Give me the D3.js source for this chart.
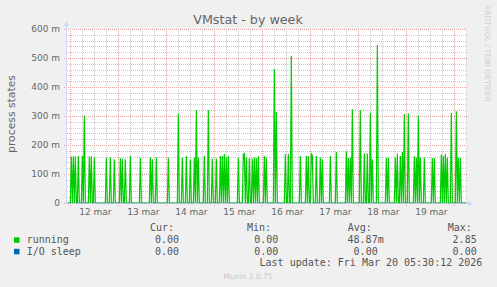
<!DOCTYPE html>
<html>
<head>
<meta charset="utf-8">
<script src="https://cdn.jsdelivr.net/npm/d3@7"></script>
<style>
    body { margin: 0; background: #f0f0f0; }
    svg { display: block; font-family: "DejaVu Sans", sans-serif; }
    .mono { font-family: "DejaVu Sans Mono", monospace; font-size: 10px; fill: #555; }
</style>
</head>
<body>
<div id="chart"></div>
<script>

// hours after 12 mar 00:00 where "running" was non-zero (30 min samples)
const runningHours = [0.5, 1.5, 2.5, 4, 6, 7, 9.5, 10.5, 12, 18, 20, 22, 25, 26, 27.5, 30, 35,
    40, 41, 43, 49, 54, 56, 58, 60, 62, 63, 64, 67, 69, 71, 73, 75, 76, 77, 78, 79,
    84, 86.5, 87, 88, 89.5, 91, 92, 93, 94, 97, 98, 102, 103, 107.5, 109, 110.5, 115,
    118, 119, 120.5, 121, 123, 125, 126, 130, 133, 138, 139, 140, 141, 145, 147, 148.5,
    150, 151, 153.5, 158, 159, 162.5, 163.5, 165, 166, 167, 169, 172, 173, 174, 175, 177,
    181, 182, 185.5, 186.5, 187.5, 188.5, 190.5, 193, 194, 195];
// values in milli (m)
const runningValues = [160, 161, 161, 162, 162, 301, 161, 161, 157, 155, 157, 151, 155, 153, 151, 162, 155,
    157, 151, 157, 157, 309, 157, 162, 151, 157, 321, 157, 162, 321, 153, 153, 162, 162, 169, 157, 162,
    155, 169, 171, 157, 155, 153, 157, 155, 161, 162, 157, 462, 314, 169, 169, 507, 162,
    162, 162, 169, 164, 162, 157, 151, 162, 176, 178, 155, 157, 323, 321, 171, 171,
    312, 151, 545, 155, 157, 157, 171, 162, 176, 307, 309, 161, 157, 302, 157, 157,
    155, 155, 167, 162, 169, 157, 310, 316, 157, 155];

// I/O sleep stayed at zero the whole week
const ioSleepHours = [];
const ioSleepValues = [];

const yTicks = [0, 100, 200, 300, 400, 500, 600];

const legendNames = ["running", "I/O sleep"];
const legendColors = ["#00cc00", "#0066b3"];
const legendCur = ["0.00", "0.00"];
const legendMin = ["0.00", "0.00"];
const legendAvg = ["48.87m", "0.00"];
const legendMax = ["2.85", "0.00"];


class VmstatVis {

    constructor(parentElement) {
        this.parentElement = parentElement;
        this.initVis();
    }

    initVis() {
        let vis = this;

        vis.margin = {top: 29, right: 30, bottom: 84, left: 67};
        vis.width = 400;
        vis.height = 174;

        vis.root = d3.select("#" + vis.parentElement).append("svg")
            .attr("width", 497)
            .attr("height", 287);

        vis.root.append("rect")
            .attr("width", 497).attr("height", 287)
            .attr("fill", "#f0f0f0");

        vis.svg = vis.root.append("g")
            .attr("transform", `translate(${vis.margin.left}, ${vis.margin.top})`);

        vis.day0 = new Date(2026, 2, 12);
        vis.start = d3.timeMinute.offset(vis.day0, -100);
        vis.end = d3.timeHour.offset(vis.start, 200);

        vis.x = d3.scaleTime().domain([vis.start, vis.end]).range([0, vis.width]);
        vis.y = d3.scaleLinear().domain([0, 600]).range([vis.height, 0]);

        // title + side labels
        vis.root.append("text")
            .attr("x", 248).attr("y", 24)
            .attr("text-anchor", "middle")
            .attr("font-size", 12.7)
            .attr("fill", "#666")
            .text("VMstat - by week");

        vis.root.append("text")
            .attr("transform", "translate(15, 114) rotate(-90)")
            .attr("text-anchor", "middle")
            .attr("font-size", 10.8)
            .attr("fill", "#666")
            .text("process states");

        vis.root.append("text")
            .attr("transform", "translate(484.5, 5) rotate(90)")
            .attr("font-size", 7.5)
            .attr("fill", "#cfcfcf")
            .text("RRDTOOL / TOBI OETIKER");

        this.wrangleData();
    }

    wrangleData() {
        let vis = this;

        // lay every series out on the 30 min sample grid of the graph
        function toGrid(hours, values) {
            let lookup = new Map();
            hours.forEach((h, i) => lookup.set(h * 2, values[i]));
            let pts = [];
            for (let k = -3; k <= 396; k++) {
                pts.push({date: d3.timeMinute.offset(vis.day0, k * 30), value: lookup.get(k) || 0});
            }
            return pts;
        }

        vis.running = toGrid(runningHours, runningValues);
        vis.ioSleep = toGrid(ioSleepHours, ioSleepValues);

        vis.updateVis();
    }

    updateVis() {
        let vis = this;

        vis.svg.append("rect")
            .attr("width", vis.width).attr("height", vis.height)
            .attr("fill", "#fff");

        let grid = vis.svg.append("g").attr("shape-rendering", "crispEdges");

        // minor grid
        let minorY = d3.range(0, 601, 20).filter(v => v % 100 !== 0);
        grid.selectAll(".minor-y").data(minorY).enter().append("line")
            .attr("x1", 0).attr("x2", vis.width)
            .attr("y1", d => Math.round(vis.y(d)) + 0.5).attr("y2", d => Math.round(vis.y(d)) + 0.5)
            .attr("stroke", "#c8c8c8").attr("stroke-dasharray", "1,1");

        let minorX = d3.timeHour.every(6).range(vis.start, vis.end).filter(d => d.getHours() !== 0);
        grid.selectAll(".minor-x").data(minorX).enter().append("line")
            .attr("x1", d => Math.round(vis.x(d)) + 0.5).attr("x2", d => Math.round(vis.x(d)) + 0.5)
            .attr("y1", 0).attr("y2", vis.height)
            .attr("stroke", "#c8c8c8").attr("stroke-dasharray", "1,1");

        // major grid, sticking out a little past the axes
        grid.selectAll(".major-y").data(yTicks).enter().append("line")
            .attr("x1", -3).attr("x2", vis.width)
            .attr("y1", d => Math.round(vis.y(d)) + 0.5).attr("y2", d => Math.round(vis.y(d)) + 0.5)
            .attr("stroke", "#e6a0a0").attr("stroke-dasharray", "1,1");

        let days = d3.timeDay.range(vis.start, vis.end);
        grid.selectAll(".major-x").data(days).enter().append("line")
            .attr("x1", d => Math.round(vis.x(d)) + 0.5).attr("x2", d => Math.round(vis.x(d)) + 0.5)
            .attr("y1", 0).attr("y2", vis.height + 3)
            .attr("stroke", "#e6a0a0").attr("stroke-dasharray", "1,1");

        // series
        let line = d3.line()
            .x(d => vis.x(d.date))
            .y(d => vis.y(d.value));

        vis.svg.append("path")
            .datum(vis.running)
            .attr("d", line)
            .attr("fill", "none")
            .attr("stroke", legendColors[0])
            .attr("stroke-width", 1.2);

        vis.svg.append("path")
            .datum(vis.ioSleep)
            .attr("d", line)
            .attr("fill", "none")
            .attr("stroke", legendColors[1])
            .attr("stroke-opacity", 0.45)
            .attr("stroke-width", 1.2);

        // axes
        let axisColor = "#cfd6f8";
        vis.svg.append("line")
            .attr("x1", -0.5).attr("x2", -0.5).attr("y1", vis.height + 0.5).attr("y2", -6)
            .attr("stroke", axisColor);
        vis.svg.append("path")
            .attr("d", "M-3,-3 L2,-3 L-0.5,-8 Z")
            .attr("fill", axisColor);
        vis.svg.append("line")
            .attr("x1", -0.5).attr("x2", vis.width + 2).attr("y1", vis.height + 0.5).attr("y2", vis.height + 0.5)
            .attr("stroke", axisColor).attr("stroke-opacity", 0.6);
        vis.svg.append("path")
            .attr("d", `M${vis.width + 1},${vis.height - 2} L${vis.width + 1},${vis.height + 3} L${vis.width + 6},${vis.height + 0.5} Z`)
            .attr("fill", axisColor);

        // tick labels
        vis.svg.selectAll(".ylab").data(yTicks).enter().append("text")
            .attr("x", -7).attr("y", d => vis.y(d) + 3.3)
            .attr("text-anchor", "end")
            .attr("font-size", 9)
            .attr("fill", "#666")
            .text(d => d === 0 ? "0" : d + " m");

        let noons = days.map(d => d3.timeHour.offset(d, 12)).filter(d => d < vis.end);
        let fmt = d3.timeFormat("%-d");
        vis.svg.selectAll(".xlab").data(noons).enter().append("text")
            .attr("x", d => vis.x(d) + 1).attr("y", vis.height + 12)
            .attr("text-anchor", "middle")
            .attr("font-size", 9)
            .attr("fill", "#666")
            .text(d => fmt(d) + " mar");

        // legend
        let leg = vis.root.append("g");
        let head = [["Cur:", 150], ["Min:", 247], ["Avg:", 347.7], ["Max:", 447.7]];
        head.forEach(h => {
            leg.append("text").attr("class", "mono").attr("x", h[1]).attr("y", 231).text(h[0]);
        });

        legendNames.forEach((name, i) => {
            let yy = 243 + i * 11.5;
            leg.append("rect")
                .attr("x", 14).attr("y", yy - 5.7).attr("width", 5.5).attr("height", 5.5)
                .attr("fill", legendColors[i]);
            leg.append("text").attr("class", "mono").attr("x", 26.7).attr("y", yy).text(name);
            leg.append("text").attr("class", "mono").attr("x", 179).attr("y", yy)
                .attr("text-anchor", "end").text(legendCur[i]);
            leg.append("text").attr("class", "mono").attr("x", 278.3).attr("y", yy)
                .attr("text-anchor", "end").text(legendMin[i]);
            leg.append("text").attr("class", "mono").attr("x", legendAvg[i].endsWith("m") ? 383.7 : 377.7).attr("y", yy)
                .attr("text-anchor", "end").text(legendAvg[i]);
            leg.append("text").attr("class", "mono").attr("x", 476.7).attr("y", yy)
                .attr("text-anchor", "end").text(legendMax[i]);
        });

        leg.append("text").attr("class", "mono")
            .attr("x", 482.3).attr("y", 266)
            .attr("text-anchor", "end")
            .text("Last update: Fri Mar 20 05:30:12 2026");

        vis.root.append("text")
            .attr("x", 248).attr("y", 279)
            .attr("text-anchor", "middle")
            .attr("font-size", 7.5)
            .attr("fill", "#c8c8c8")
            .text("Munin 2.0.75");
    }
}

new VmstatVis("chart");

</script>
</body>
</html>
